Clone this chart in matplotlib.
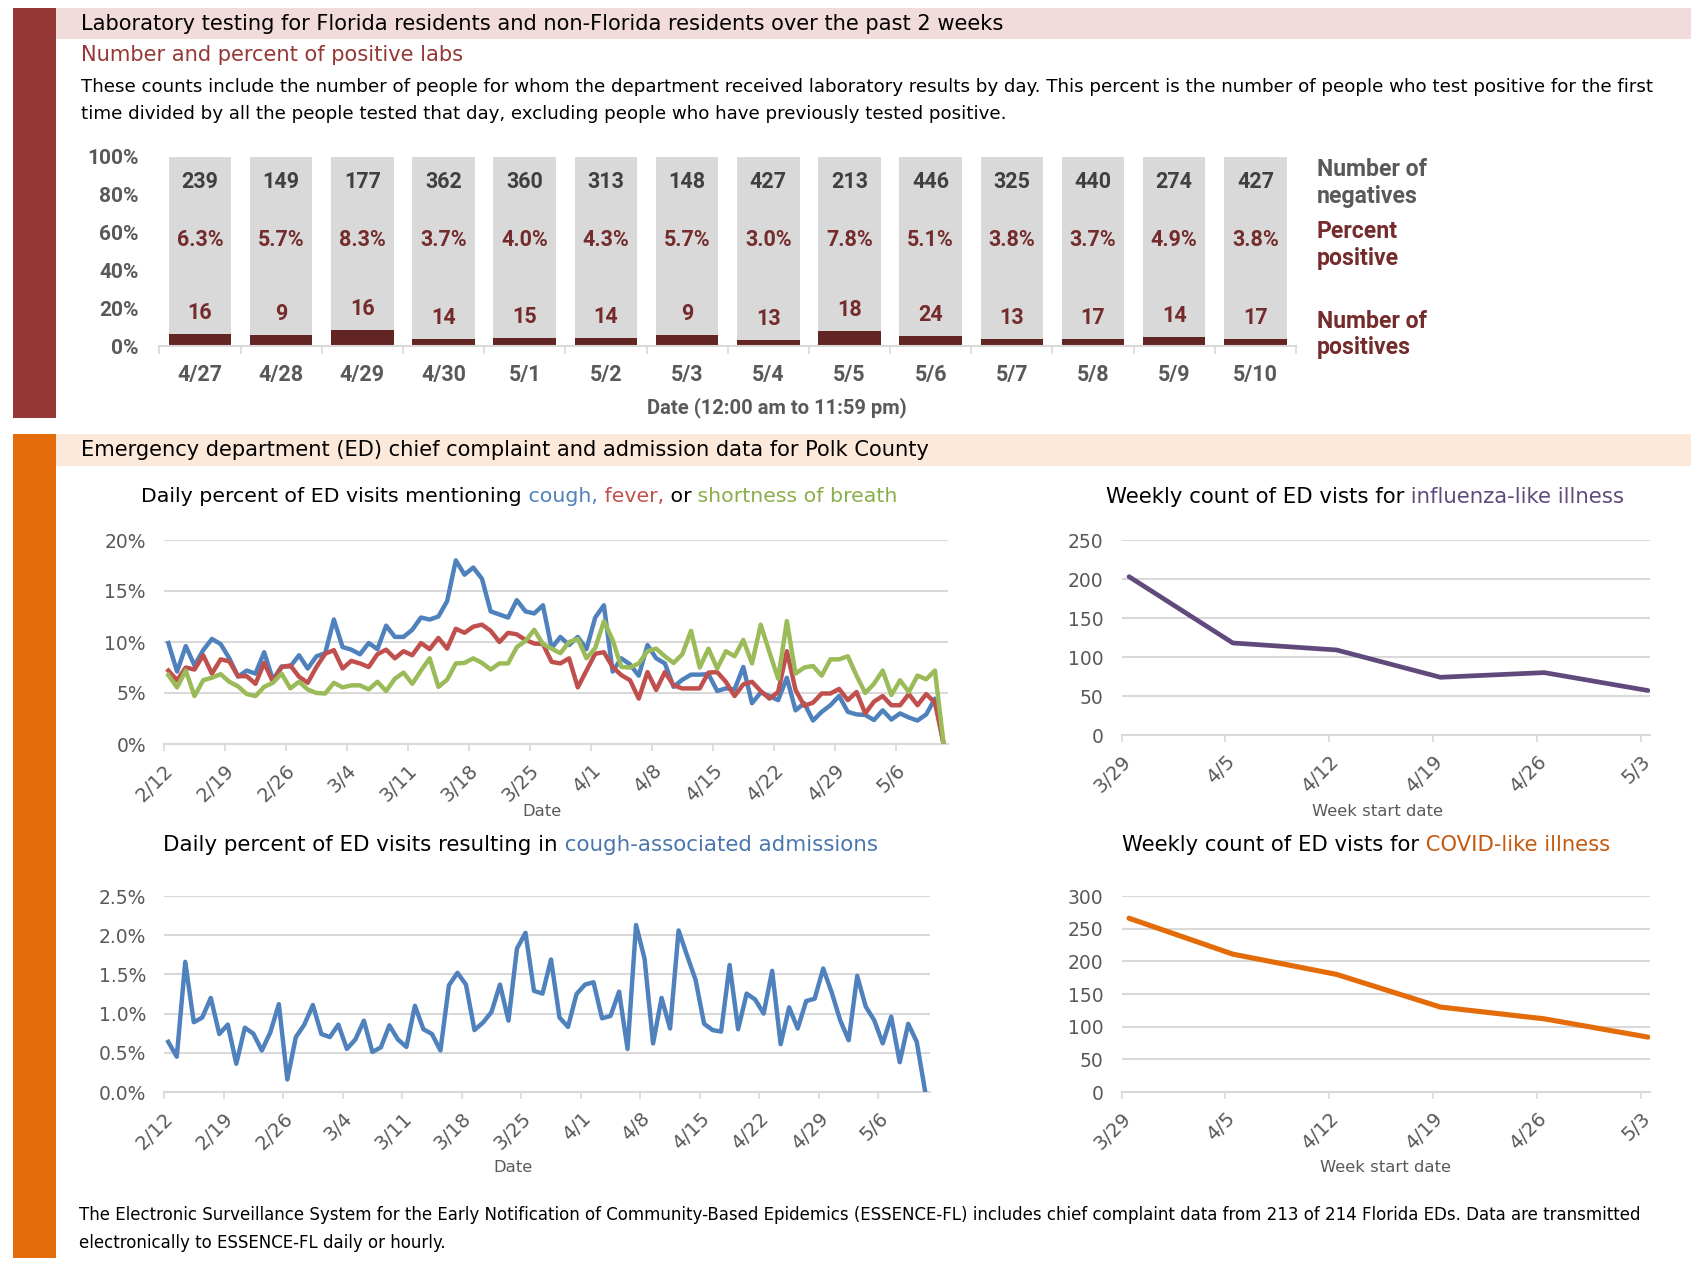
import numpy as np
import matplotlib
matplotlib.use("Agg")
import matplotlib.pyplot as plt
from matplotlib.patches import Rectangle
from matplotlib.text import Annotation

plt.rcParams['font.family'] = ['DejaVu Sans']

# ---------------- data ----------------
lab_dates = ['4/27', '4/28', '4/29', '4/30', '5/1', '5/2', '5/3', '5/4', '5/5', '5/6',
             '5/7', '5/8', '5/9', '5/10']
negatives = [239, 149, 177, 362, 360, 313, 148, 427, 213, 446, 325, 440, 274, 427]
positives = [16, 9, 16, 14, 15, 14, 9, 13, 18, 24, 13, 17, 14, 17]

week_ticks_daily = ['2/12', '2/19', '2/26', '3/4', '3/11', '3/18', '3/25', '4/1', '4/8',
                    '4/15', '4/22', '4/29', '5/6']

cough = [9.9, 7.1, 9.6, 7.7, 9.2, 10.3, 9.8, 8.4, 6.6, 7.2,
         6.9, 9.0, 6.3, 7.6, 7.6, 8.7, 7.4, 8.6, 8.9, 12.2,
         9.5, 9.25, 8.8, 9.9, 9.3, 11.6, 10.5, 10.5, 11.2, 12.4,
         12.2, 12.5, 14.0, 18.0, 16.6, 17.3, 16.2, 13.0, 12.7, 12.4,
         14.1, 13.0, 12.8, 13.6, 9.4, 10.5, 9.7, 10.5, 9.3, 12.4,
         13.6, 7.1, 8.4, 7.8, 6.7, 9.7, 8.4, 7.9, 5.6, 6.3,
         6.8, 6.8, 6.85, 5.2, 5.45, 5.35, 7.55, 4.0, 5.05, 4.7,
         4.3, 6.5, 3.3, 4.0, 2.3, 3.15, 3.8, 4.7, 3.15, 2.9,
         2.85, 2.35, 3.3, 2.4, 3.0, 2.6, 2.3, 2.9, 4.45, 0.0]

fever = [7.2, 6.25, 7.5, 7.3, 8.7, 6.9, 8.3, 8.1, 6.65, 6.65,
         5.9, 7.95, 6.1, 7.55, 7.7, 6.6, 6.0, 7.55, 8.85, 9.2,
         7.4, 8.15, 7.9, 7.55, 8.8, 9.25, 8.4, 9.1, 8.7, 9.9,
         9.3, 10.4, 9.35, 11.3, 10.9, 11.5, 11.7, 11.1, 10.0, 10.9,
         10.75, 10.2, 9.85, 9.8, 8.05, 7.9, 8.4, 5.55, 7.2, 8.85,
         9.0, 7.55, 6.75, 6.25, 4.45, 7.05, 5.3, 7.05, 5.75, 5.45,
         5.45, 5.45, 7.0, 7.05, 6.1, 4.7, 5.85, 6.1, 5.2, 4.45,
         5.1, 9.1, 5.3, 3.75, 4.05, 4.95, 4.95, 5.4, 4.3, 5.1,
         3.0, 4.15, 4.7, 3.8, 3.8, 4.9, 3.8, 4.9, 4.05, 0.0]

breath = [6.75, 5.55, 7.2, 4.7, 6.25, 6.5, 6.85, 6.1, 5.65, 4.9,
          4.7, 5.6, 6.0, 6.9, 5.45, 6.1, 5.35, 5.0, 4.95, 6.0,
          5.55, 5.75, 5.75, 5.35, 6.1, 5.2, 6.4, 7.0, 5.9, 7.2,
          8.4, 5.6, 6.3, 7.9, 7.95, 8.4, 7.95, 7.3, 7.9, 7.9,
          9.5, 10.1, 11.2, 9.8, 9.35, 8.9, 10.0, 10.3, 8.4, 9.4,
          12.05, 10.2, 7.55, 7.5, 7.9, 9.1, 9.35, 8.6, 7.95, 8.8,
          11.1, 7.5, 9.35, 7.4, 9.1, 8.6, 10.2, 7.9, 11.7, 9.0,
          6.4, 12.05, 6.9, 7.5, 7.65, 6.7, 8.3, 8.3, 8.6, 6.7,
          5.0, 5.9, 7.2, 4.8, 6.25, 5.1, 6.7, 6.35, 7.2, 0.0]

admissions = [0.64, 0.45, 1.66, 0.89, 0.95, 1.20, 0.74, 0.86, 0.36, 0.82,
              0.745, 0.53, 0.76, 1.12, 0.16, 0.70, 0.86, 1.11, 0.74, 0.70,
              0.86, 0.55, 0.67, 0.91, 0.51, 0.57, 0.85, 0.67, 0.575, 1.10,
              0.80, 0.74, 0.53, 1.36, 1.52, 1.37, 0.79, 0.885, 1.02, 1.37,
              0.91, 1.83, 2.03, 1.29, 1.255, 1.69, 0.95, 0.83, 1.25, 1.37,
              1.40, 0.94, 0.97, 1.28, 0.55, 2.13, 1.70, 0.62, 1.20, 0.81,
              2.06, 1.74, 1.43, 0.87, 0.79, 0.77, 1.62, 0.80, 1.255, 1.18,
              1.0, 1.545, 0.61, 1.08, 0.81, 1.16, 1.19, 1.575, 1.27, 0.915,
              0.66, 1.48, 1.09, 0.915, 0.62, 0.96, 0.38, 0.87, 0.64, 0.0]

week_labels = ['3/29', '4/5', '4/12', '4/19', '4/26', '5/3']
ili = [203, 118, 109, 74, 80, 57]
cli = [266, 211, 180, 130, 112, 84]

# ---------------- style ----------------
W, H = 1700, 1266
GREY = '#595959'
GRID = '#D9D9D9'
DKRED = '#632523'
LBLRED = '#742B2B'
BLUE = '#4F81BD'
RED = '#C0504D'
GREEN = '#9BBB59'
PURPLE = '#604A7B'
ORANGE = '#E36C09'
BFONT = ['Roboto', 'DejaVu Sans']   # demi-bold look for the lab chart

fig = plt.figure(figsize=(W / 100, H / 100), dpi=100)
renderer = fig.canvas.get_renderer()


def rect(x0, y0, x1, y1, color):
    fig.patches.append(Rectangle((x0 / W, 1 - y1 / H), (x1 - x0) / W, (y1 - y0) / H,
                                 transform=fig.transFigure, color=color, lw=0, zorder=0))


def ftext(x, y, s, **kw):
    kw.setdefault('va', 'center')
    kw.setdefault('ha', 'left')
    return fig.text(x / W, 1 - y / H, s, **kw)


def fit_size(s, target, base=14.0, **kw):
    t = fig.text(0, 0, s, fontsize=base, **kw)
    w = t.get_window_extent(renderer).width
    t.remove()
    return base * target / w


def rich(x, y, parts, target):
    size = fit_size(''.join(p[0] for p in parts), target)
    prev = ftext(x, y, parts[0][0], color=parts[0][1], fontsize=size)
    for s, c in parts[1:]:
        a = Annotation(s, xy=(1, 0), xycoords=prev, va='bottom', ha='left',
                       color=c, fontsize=size)
        fig.add_artist(a)
        prev = a


def add_ax(x0, x1, y0, y1):
    return fig.add_axes([x0 / W, 1 - y1 / H, (x1 - x0) / W, (y1 - y0) / H])


# background bands
rect(13, 8, 56, 418, '#953735')
rect(56, 8, 1691, 39, '#F2DCDB')
rect(13, 434, 56, 1258, '#E46C0A')
rect(56, 434, 1691, 466, '#FDE9D9')

s_head1 = 'Laboratory testing for Florida residents and non-Florida residents over the past 2 weeks'
ftext(81, 24, s_head1, fontsize=fit_size(s_head1, 929), color='black')
s_sub = 'Number and percent of positive labs'
ftext(81, 55, s_sub, fontsize=fit_size(s_sub, 385), color='#953735')
s_p1 = ('These counts include the number of people for whom the department received laboratory '
        'results by day. This percent is the number of people who test positive for the first')
s_p2 = ('time divided by all the people tested that day, excluding people who have previously '
        'tested positive.')
psize = fit_size(s_p1, 1580)
ftext(81, 87, s_p1, fontsize=psize, color='black')
ftext(81, 114, s_p2, fontsize=psize, color='black')

s_head2 = 'Emergency department (ED) chief complaint and admission data for Polk County'
ftext(81, 450, s_head2, fontsize=fit_size(s_head2, 853), color='black')

s_f1 = ('The Electronic Surveillance System for the Early Notification of Community-Based '
        'Epidemics (ESSENCE-FL) includes chief complaint data from 213 of 214 Florida EDs. '
        'Data are transmitted')
s_f2 = 'electronically to ESSENCE-FL daily or hourly.'
fsize = fit_size(s_f1, 1575)
ftext(79, 1215, s_f1, fontsize=fsize, color='black')
ftext(79, 1243, s_f2, fontsize=fsize, color='black')

# ---------------- lab bar chart ----------------
axb = add_ax(159.4, 1296, 157, 346)
n = len(lab_dates)
xb = np.arange(n)
pos = np.array(positives, float)
neg = np.array(negatives, float)
tot = pos + neg
pfrac = pos / tot
nfrac = neg / tot
axb.bar(xb, pfrac, width=0.77, color=DKRED, lw=0, zorder=2)
axb.bar(xb, nfrac, bottom=pfrac, width=0.77, color='#D9D9D9', lw=0, zorder=2)
bkw = dict(ha='center', va='center', fontsize=15.5, fontweight='bold', family=BFONT)
for i in range(n):
    axb.text(xb[i], 0.868, str(negatives[i]), color='#404040', **bkw)
    axb.text(xb[i], 0.562, f'{100 * pfrac[i]:.1f}%', color=LBLRED, **bkw)
    axb.text(xb[i], pfrac[i] + 0.112, str(positives[i]), color=LBLRED, **bkw)
axb.set_xlim(-0.5, n - 0.5)
axb.set_ylim(0, 1)
axb.set_yticks(np.linspace(0, 1, 6))
axb.set_yticklabels([f'{int(v)}%' for v in np.linspace(0, 100, 6)], fontweight='bold',
                    family=BFONT)
axb.set_xticks(xb)
axb.set_xticklabels(lab_dates, fontweight='bold', family=BFONT)
axb.set_xticks(np.arange(-0.5, n, 1), minor=True)
axb.tick_params(axis='x', which='major', length=0, pad=13, labelsize=15.5, labelcolor=GREY)
axb.tick_params(axis='x', which='minor', length=6, width=1.2, color=GRID)
axb.tick_params(axis='y', length=0, pad=15, labelsize=15, labelcolor=GREY)
for s in ['top', 'right', 'left']:
    axb.spines[s].set_visible(False)
axb.spines['bottom'].set_color(GRID)
axb.spines['bottom'].set_linewidth(1.5)
axb.set_facecolor('none')

lkw = dict(fontweight='bold', family=BFONT)
s_date = 'Date (12:00 am to 11:59 pm)'
ftext(777, 408, s_date, ha='center', fontsize=fit_size(s_date, 261, **lkw), color=GREY, **lkw)
lsize = fit_size('Number of', 110, **lkw)
ftext(1317, 169, 'Number of', fontsize=lsize, color=GREY, **lkw)
ftext(1317, 196, 'negatives', fontsize=lsize, color=GREY, **lkw)
ftext(1317, 231, 'Percent', fontsize=lsize, color=LBLRED, **lkw)
ftext(1317, 258, 'positive', fontsize=lsize, color=LBLRED, **lkw)
ftext(1317, 321, 'Number of', fontsize=lsize, color=LBLRED, **lkw)
ftext(1317, 348, 'positives', fontsize=lsize, color=LBLRED, **lkw)


# ---------------- line charts ----------------
def style_line_ax(ax, yticks, ylabels, xticks, xlabels, xmax):
    ax.set_xlim(0, xmax)
    ax.set_ylim(yticks[0], yticks[-1])
    ax.set_yticks(yticks)
    ax.set_yticklabels(ylabels)
    ax.set_xticks(xticks)
    ax.set_xticklabels(xlabels, rotation=45, ha='right', va='top', rotation_mode='anchor')
    ax.yaxis.grid(True, color=GRID, lw=1.5, zorder=0)
    ax.set_axisbelow(True)
    for s in ['top', 'right', 'left']:
        ax.spines[s].set_visible(False)
    ax.spines['bottom'].set_color(GRID)
    ax.spines['bottom'].set_linewidth(1.5)
    ax.tick_params(axis='y', length=0, pad=13, labelsize=13.5, labelcolor=GREY)
    ax.tick_params(axis='x', length=5, width=1.2, color=GRID, pad=7, labelsize=14,
                   labelcolor=GREY)
    ax.set_facecolor('none')


nd = len(cough)
xd = np.arange(nd) + 0.5
wk = np.arange(0, 7 * len(week_ticks_daily), 7)
axsize = fit_size('Week start date', 131)

ax1 = add_ax(164, 948, 540, 744)
ax1.plot(xd, cough, color=BLUE, lw=3.2, solid_joinstyle='round', zorder=3)
ax1.plot(xd, fever, color=RED, lw=3.2, solid_joinstyle='round', zorder=4)
ax1.plot(xd, breath, color=GREEN, lw=3.2, solid_joinstyle='round', zorder=5)
style_line_ax(ax1, [0, 5, 10, 15, 20], ['0%', '5%', '10%', '15%', '20%'], wk, week_ticks_daily, nd)
rich(141, 497, [('Daily percent of ED visits mentioning', 'black'), (' cough,', BLUE),
                (' fever,', RED), (' or', 'black'), (' shortness of breath', '#8AAE4A')], 759)
ftext(542, 811, 'Date', ha='center', fontsize=axsize, color=GREY)

ax2 = add_ax(164, 929.5, 896, 1092)
ax2.plot(xd, admissions, color=BLUE, lw=3.2, solid_joinstyle='round', zorder=3)
style_line_ax(ax2, [0, 0.5, 1.0, 1.5, 2.0, 2.5], ['0.0%', '0.5%', '1.0%', '1.5%', '2.0%', '2.5%'],
              wk, week_ticks_daily, nd)
rich(163, 845, [('Daily percent of ED visits resulting in', 'black'),
                (' cough-associated admissions', '#4A76AE')], 717)
ftext(513, 1168, 'Date', ha='center', fontsize=axsize, color=GREY)

xw = np.arange(len(week_labels)) * 7 + 0.5
wkw = np.arange(len(week_labels)) * 7

ax3 = add_ax(1121.6, 1649.5, 540, 735)
ax3.plot(xw, ili, color=PURPLE, lw=3.4, solid_joinstyle='round', solid_capstyle='round', zorder=3)
style_line_ax(ax3, [0, 50, 100, 150, 200, 250], ['0', '50', '100', '150', '200', '250'],
              wkw, week_labels, 35.6)
rich(1106, 497, [('Weekly count of ED vists for', 'black'), (' influenza-like illness', PURPLE)], 523)
ftext(1378, 811, 'Week start date', ha='center', fontsize=axsize, color=GREY)

ax4 = add_ax(1121.6, 1649.5, 896, 1092)
ax4.plot(xw, cli, color=ORANGE, lw=3.7, solid_joinstyle='round', solid_capstyle='round', zorder=3)
style_line_ax(ax4, [0, 50, 100, 150, 200, 250, 300],
              ['0', '50', '100', '150', '200', '250', '300'], wkw, week_labels, 35.6)
rich(1122, 845, [('Weekly count of ED vists for', 'black'), (' COVID-like illness', '#C55A11')], 490)
ftext(1385, 1168, 'Week start date', ha='center', fontsize=axsize, color=GREY)

fig.savefig('out.png', dpi=100)
